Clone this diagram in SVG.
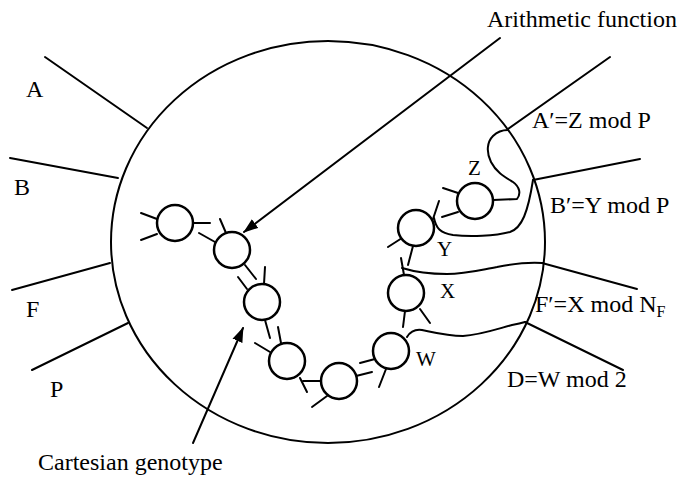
<svg xmlns="http://www.w3.org/2000/svg" width="683" height="477" viewBox="0 0 683 477">
  <style>
    .ln { stroke: #000; stroke-width: 2; fill: none; stroke-linecap: round; stroke-linejoin: round; }
    .nd { stroke: #000; stroke-width: 2.5; fill: #fff; }
    .lb { font-family: "Liberation Serif", "Times New Roman", serif; font-size: 24px; fill: #000; }
    .nl { font-family: "Liberation Serif", "Times New Roman", serif; font-size: 21px; fill: #000; }
  </style>
  <defs>
    <marker id="arrow" viewBox="0 0 10 10" refX="9" refY="5" markerWidth="8" markerHeight="8" markerUnits="userSpaceOnUse" orient="auto">
      <path d="M0,0 L10,5 L0,10 Z" fill="#000"/>
    </marker>
    <marker id="arrowBig" viewBox="0 0 14 10" refX="13" refY="5" markerWidth="15" markerHeight="11" markerUnits="userSpaceOnUse" orient="auto">
      <path d="M0,0 L14,5 L0,10 Z" fill="#000"/>
    </marker>
  </defs>
  <rect width="683" height="477" fill="#fff"/>

  <!-- genome boundary -->
  <g id="boundary">
    <ellipse class="ln" cx="328" cy="242" rx="217" ry="201"/>
  </g>

  <!-- program inputs -->
  <g id="inputs">
    <line class="ln" x1="45" y1="57" x2="147" y2="128"/>
    <line class="ln" x1="10" y1="158" x2="118" y2="178"/>
    <line class="ln" x1="12" y1="290" x2="110" y2="263"/>
    <line class="ln" x1="32" y1="370" x2="128" y2="323"/>
    <text class="lb" x="26" y="97">A</text>
    <text class="lb" x="14" y="195">B</text>
    <text class="lb" x="26" y="317">F</text>
    <text class="lb" x="50" y="397">P</text>
  </g>

  <!-- computational nodes -->
  <g id="node-1">
    <line class="ln" x1="141" y1="213" x2="157" y2="219"/>
    <line class="ln" x1="141" y1="240" x2="157" y2="234"/>
    <line class="ln" x1="193" y1="223" x2="210" y2="223"/>
    <circle class="nd" cx="175" cy="223" r="18"/>
  </g>
  <g id="node-2">
    <line class="ln" x1="199" y1="233" x2="215" y2="242"/>
    <line class="ln" x1="220" y1="219" x2="226" y2="233"/>
    <line class="ln" x1="245" y1="265" x2="256" y2="279"/>
    <circle class="nd" cx="232" cy="250" r="18"/>
  </g>
  <g id="node-3">
    <line class="ln" x1="238" y1="277" x2="247" y2="289"/>
    <line class="ln" x1="265" y1="267" x2="264" y2="284"/>
    <line class="ln" x1="265" y1="320" x2="270" y2="338"/>
    <circle class="nd" cx="262" cy="302" r="18"/>
  </g>
  <g id="node-4">
    <line class="ln" x1="255" y1="343" x2="270" y2="352"/>
    <line class="ln" x1="278" y1="327" x2="281" y2="343"/>
    <line class="ln" x1="300" y1="378" x2="307" y2="392"/>
    <circle class="nd" cx="287" cy="361" r="18"/>
  </g>
  <g id="node-5">
    <line class="ln" x1="303" y1="381" x2="321" y2="381"/>
    <line class="ln" x1="312" y1="407" x2="327" y2="396"/>
    <line class="ln" x1="356" y1="376" x2="372" y2="372"/>
    <circle class="nd" cx="339" cy="381" r="18"/>
  </g>
  <g id="node-W">
    <line class="ln" x1="360" y1="363" x2="375" y2="359"/>
    <line class="ln" x1="386" y1="369" x2="379" y2="387"/>
    <circle class="nd" cx="391" cy="351" r="18"/>
    <text class="nl" x="416" y="366">W</text>
  </g>
  <g id="node-X">
    <line class="ln" x1="401" y1="258" x2="404" y2="275"/>
    <line class="ln" x1="405" y1="311" x2="403" y2="327"/>
    <line class="ln" x1="420" y1="309" x2="430" y2="323"/>
    <circle class="nd" cx="406" cy="293" r="18"/>
    <text class="nl" x="440" y="298">X</text>
  </g>
  <g id="node-Y">
    <line class="ln" x1="388" y1="247" x2="402" y2="238"/>
    <line class="ln" x1="413" y1="246" x2="408" y2="265"/>
    <line class="ln" x1="433" y1="219" x2="439" y2="201"/>
    <circle class="nd" cx="416" cy="228" r="18"/>
    <text class="nl" x="437" y="256">Y</text>
  </g>
  <g id="node-Z">
    <line class="ln" x1="443" y1="188" x2="458" y2="193"/>
    <line class="ln" x1="442" y1="217" x2="458" y2="212"/>
    <circle class="nd" cx="475" cy="201" r="18"/>
    <text class="nl" x="468" y="175">Z</text>
  </g>

  <!-- output wiring and annotation arrows -->
  <g id="connectors">
    <path class="ln" d="M493,200 L517,199 C521,194 520,187 513,182 C505,177 496,172 491,162 C486,152 487,142 493,136 C497,132 502,130 508,130"/>
    <path class="ln" d="M434,218 C436,228 440,233 453,235 C470,237 495,236 510,232 C522,228 528,212 533,180"/>
    <path class="ln" d="M402,268 C415,272 430,274 447,274 C465,274 480,270 497,267 C512,264 527,262 542,263"/>
    <path class="ln" d="M407,337 C410,332 415,329 422,330 C432,332 447,336 463,336 C480,335 497,329 512,325 C518,324 522,323 525,322"/>
    <line class="ln" x1="508" y1="129" x2="610" y2="57"/>
    <line class="ln" x1="533" y1="180" x2="640" y2="159"/>
    <line class="ln" x1="542" y1="263" x2="637" y2="289"/>
    <line class="ln" x1="525" y1="322" x2="623" y2="370"/>
    <line class="ln" x1="500" y1="38" x2="244" y2="232" marker-end="url(#arrowBig)"/>
    <line class="ln" x1="193" y1="443" x2="243" y2="328" marker-end="url(#arrowBig)"/>
  </g>

  <!-- output and annotation labels -->
  <g id="labels">
    <text class="lb" x="487" y="27">Arithmetic function</text>
    <text class="lb" x="532" y="128">A′=Z mod P</text>
    <text class="lb" x="550" y="213">B′=Y mod P</text>
    <text class="lb" x="535" y="312">F′=X mod N<tspan font-size="16" dy="5">F</tspan></text>
    <text class="lb" x="507" y="387">D=W mod 2</text>
    <text class="lb" x="38" y="470">Cartesian genotype</text>
  </g>
</svg>
